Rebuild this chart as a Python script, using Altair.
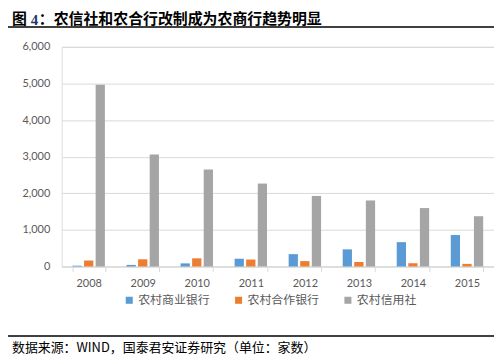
import altair as alt
import pandas as pd

years = ["2008", "2009", "2010", "2011", "2012", "2013", "2014", "2015"]
series = ["农村商业银行", "农村合作银行", "农村信用社"]
rural_commercial = [22, 43, 85, 212, 337, 468, 665, 859]
rural_coop = [163, 196, 223, 190, 147, 122, 89, 71]
rural_credit = [4965, 3056, 2646, 2265, 1927, 1803, 1596, 1373]
colors = ["#5B9BD5", "#ED7D31", "#A5A5A5"]
y_ticks = [0, 1000, 2000, 3000, 4000, 5000, 6000]

rows = []
for name, vals in zip(series, [rural_commercial, rural_coop, rural_credit]):
    for yr, v in zip(years, vals):
        rows.append({"year": yr, "series": name, "value": v})
df = pd.DataFrame(rows)

W, H = 435, 221
label_color = "#595959"

bars = alt.Chart(df).mark_bar().encode(
    x=alt.X("year:N", sort=years, title=None,
            scale=alt.Scale(paddingInner=0.4, paddingOuter=0.2),
            axis=alt.Axis(labelAngle=0, labelFont="Lato", labelFontSize=11,
                          labelColor=label_color, tickBand="extent",
                          domainColor="#d9d9d9", tickColor="#d9d9d9",
                          tickSize=5, labelPadding=6, grid=False)),
    xOffset=alt.XOffset("series:N", sort=series,
                        scale=alt.Scale(paddingInner=0.2)),
    y=alt.Y("value:Q", title=None,
            scale=alt.Scale(domain=[0, 6000], nice=False),
            axis=alt.Axis(values=y_ticks, format=",.0f", labelFont="Lato",
                          labelFontSize=11, labelColor=label_color,
                          domain=False, ticks=False, labelPadding=12,
                          gridColor="#d9d9d9", gridWidth=1)),
    color=alt.Color("series:N", sort=series,
                    scale=alt.Scale(domain=series, range=colors),
                    legend=alt.Legend(title=None, orient="none", direction="horizontal",
                                      legendX=62, legendY=249,
                                      symbolType="square", symbolSize=50,
                                      symbolStrokeWidth=0,
                                      labelFont="Noto Sans CJK SC", labelFontSize=12,
                                      labelColor=label_color, columnPadding=22,
                                      labelOffset=3)),
)

ty = -35
t1 = alt.Chart(pd.DataFrame({"t": ["图"]})).mark_text(
    align="left", baseline="top", font="Noto Sans CJK SC", fontSize=15,
    fontWeight="bold", color="#000000").encode(text="t:N", x=alt.value(-50), y=alt.value(ty))
t2 = alt.Chart(pd.DataFrame({"t": ["4"]})).mark_text(
    align="left", baseline="top", font="Liberation Serif", fontSize=15,
    fontWeight="bold", color="#1F3864").encode(text="t:N", x=alt.value(-31), y=alt.value(ty + 1))
t3 = alt.Chart(pd.DataFrame({"t": ["：农信社和农合行改制成为农商行趋势明显"]})).mark_text(
    align="left", baseline="top", font="Noto Sans CJK SC", fontSize=15,
    fontWeight="bold", color="#000000").encode(text="t:N", x=alt.value(-23), y=alt.value(ty))

top_rule = alt.Chart(pd.DataFrame({"a": [0]})).mark_rule(color="#000000", strokeWidth=1.5).encode(
    x=alt.value(-59), x2=alt.value(438), y=alt.value(-20))
bottom_rule = alt.Chart(pd.DataFrame({"a": [0]})).mark_rule(color="#000000", strokeWidth=1.5).encode(
    x=alt.value(-59), x2=alt.value(438), y=alt.value(291))
footer = alt.Chart(pd.DataFrame({"t": ["数据来源：WIND，国泰君安证券研究（单位：家数）"]})).mark_text(
    align="left", baseline="middle", font="Noto Sans CJK SC", fontSize=13,
    color="#000000").encode(text="t:N", x=alt.value(-50), y=alt.value(303))

chart = alt.layer(bars, t1, t2, t3, top_rule, bottom_rule, footer).properties(
    width=W, height=H,
    padding={"left": 54, "top": 38, "right": 0, "bottom": 90},
    autosize=alt.AutoSizeParams(type="none"),
).configure_view(stroke=None).configure(background="white")

chart.save("out.html", embed_options={"renderer": "svg", "actions": False})
